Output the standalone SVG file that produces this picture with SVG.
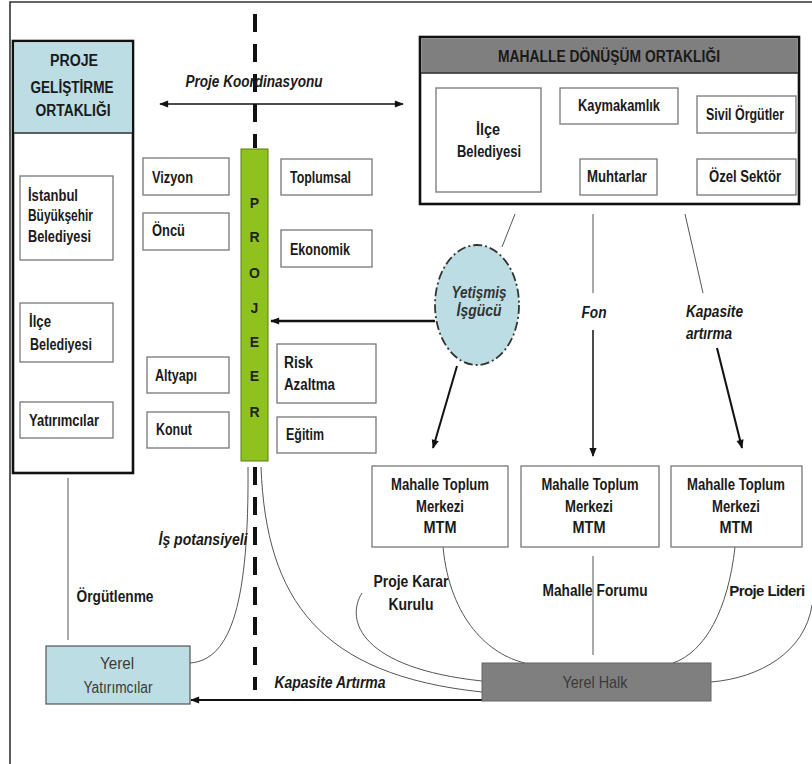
<svg xmlns="http://www.w3.org/2000/svg" width="812" height="764" viewBox="0 0 812 764">
<defs>
<marker id="ah" viewBox="0 0 10 10" refX="9" refY="5" markerWidth="10" markerHeight="9" markerUnits="userSpaceOnUse" orient="auto-start-reverse"><path d="M0,1 L10,5 L0,9 z" fill="#111"/></marker>
<style>
.t{font-family:"Liberation Sans Narrow","Liberation Sans",Arial,sans-serif;font-weight:bold;font-size:16px;fill:#1a1a1a}
.i{font-style:italic}
.r{font-weight:normal;fill:#3a3a3a}
.c{text-anchor:middle}
.big{stroke:#111;stroke-width:2.6;fill:#fff}
.box{stroke:#777;stroke-width:1.3;fill:#fff}
.thin{stroke:#555;stroke-width:1;fill:none}
.arr{stroke:#111;fill:none;marker-end:url(#ah)}
</style>
</defs>
<rect width="812" height="764" fill="#fff"/>
<g id="frame"><path d="M10,764 V2 H812" fill="none" stroke="#333" stroke-width="1.6"/></g>

<g id="connectors">
<line x1="255" y1="14" x2="255" y2="148" stroke="#111" stroke-width="4" stroke-dasharray="18 12"/>
<line x1="255" y1="467" x2="255" y2="690" stroke="#111" stroke-width="4" stroke-dasharray="18 12"/>
<line x1="160" y1="104" x2="403" y2="104" class="arr" stroke-width="1.6" marker-start="url(#ah)"/>
<line x1="435" y1="321" x2="271" y2="321" class="arr" stroke-width="2.6"/>
<line x1="457" y1="366" x2="433" y2="448" class="arr" stroke-width="2"/>
<line x1="593" y1="330" x2="593" y2="456" class="arr" stroke-width="1.5"/>
<line x1="717" y1="348" x2="742" y2="448" class="arr" stroke-width="2"/>
<line x1="482" y1="700" x2="191" y2="700" class="arr" stroke-width="2"/>
<line x1="515" y1="214" x2="502" y2="247" class="thin"/>
<line x1="593" y1="214" x2="593" y2="293" class="thin"/>
<line x1="685" y1="214" x2="703" y2="293" class="thin"/>
<line x1="68" y1="478" x2="68" y2="640" class="thin"/>
<line x1="593" y1="556" x2="593" y2="655" class="thin"/>
<path d="M443,547 C450,620 490,655 525,663" class="thin"/>
<path d="M735,547 C728,610 705,652 673,663" class="thin"/>
<path d="M711,682 C760,678 805,652 812,605" class="thin"/>
<path d="M248,467 C249,600 232,660 190,663" class="thin"/>
<path d="M261,467 C266,600 320,675 482,692" class="thin"/>
<path d="M362,593 C345,620 360,668 482,681" class="thin"/>
</g>

<g id="proje-gelistirme">
<rect x="13" y="41" width="120" height="432" class="big"/>
<rect x="14.3" y="42.3" width="117.4" height="91" fill="#bcdde3"/>
<line x1="14" y1="133" x2="132" y2="133" stroke="#333" stroke-width="1.3"/>
<text class="t c" x="74" y="66" textLength="48" lengthAdjust="spacingAndGlyphs">PROJE</text>
<text class="t c" x="72" y="93" textLength="83" lengthAdjust="spacingAndGlyphs">GELİŞTİRME</text>
<text class="t c" x="73" y="116" textLength="75" lengthAdjust="spacingAndGlyphs">ORTAKLIĞI</text>
</g>
<g id="istanbul"><rect x="20" y="176" width="93" height="84" class="box"/>
<text class="t" x="28" y="201" textLength="50" lengthAdjust="spacingAndGlyphs">İstanbul</text>
<text class="t" x="28" y="221" textLength="65" lengthAdjust="spacingAndGlyphs">Büyükşehir</text>
<text class="t" x="28" y="242" textLength="63" lengthAdjust="spacingAndGlyphs">Belediyesi</text></g>
<g id="ilce-left"><rect x="20" y="303" width="93" height="59" class="box"/>
<text class="t" x="29" y="327" textLength="22" lengthAdjust="spacingAndGlyphs">İlçe</text>
<text class="t" x="30" y="350" textLength="62" lengthAdjust="spacingAndGlyphs">Belediyesi</text></g>
<g id="yatirimcilar"><rect x="20" y="402" width="93" height="36" class="box"/>
<text class="t" x="29" y="426" textLength="70" lengthAdjust="spacingAndGlyphs">Yatırımcılar</text></g>

<g id="vizyon"><rect x="143" y="158" width="86" height="37" class="box"/><text class="t" x="152" y="183" textLength="41" lengthAdjust="spacingAndGlyphs">Vizyon</text></g>
<g id="oncu"><rect x="143" y="213" width="86" height="37" class="box"/><text class="t" x="152" y="236" textLength="33" lengthAdjust="spacingAndGlyphs">Öncü</text></g>
<g id="altyapi"><rect x="147" y="357" width="82" height="36" class="box"/><text class="t" x="155" y="381" textLength="42" lengthAdjust="spacingAndGlyphs">Altyapı</text></g>
<g id="konut"><rect x="147" y="412" width="82" height="36" class="box"/><text class="t" x="156" y="435" textLength="36" lengthAdjust="spacingAndGlyphs">Konut</text></g>
<g id="toplumsal"><rect x="281" y="159" width="91" height="36" class="box"/><text class="t" x="290" y="183" textLength="61" lengthAdjust="spacingAndGlyphs">Toplumsal</text></g>
<g id="ekonomik"><rect x="281" y="230" width="91" height="37" class="box"/><text class="t" x="290" y="255" textLength="60" lengthAdjust="spacingAndGlyphs">Ekonomik</text></g>
<g id="risk"><rect x="277" y="344" width="99" height="59" class="box"/>
<text class="t" x="284" y="368" textLength="29" lengthAdjust="spacingAndGlyphs">Risk</text>
<text class="t" x="284" y="390" textLength="51" lengthAdjust="spacingAndGlyphs">Azaltma</text></g>
<g id="egitim"><rect x="277" y="417" width="99" height="36" class="box"/><text class="t" x="286" y="440" textLength="38" lengthAdjust="spacingAndGlyphs">Eğitim</text></g>

<g id="projeer"><rect x="241" y="149" width="27" height="312" fill="#8fc21e" stroke="#5d7d10" stroke-width="1"/>
<g class="t c" style="font-size:14px;fill:#222">
<text x="254.5" y="208">P</text><text x="254.5" y="242">R</text><text x="254.5" y="278">O</text><text x="254.5" y="313">J</text><text x="254.5" y="347">E</text><text x="254.5" y="381">E</text><text x="254.5" y="417">R</text></g></g>

<g id="label-koord"><text class="t i c" x="254" y="87" textLength="137" lengthAdjust="spacingAndGlyphs">Proje Koordinasyonu</text></g>

<g id="mahalle-donusum">
<rect x="420" y="37" width="379" height="167" class="big"/>
<rect x="421.3" y="38.3" width="376.4" height="35" fill="#7f7f7f"/>
<line x1="421" y1="73" x2="798" y2="73" stroke="#333" stroke-width="1.3"/>
<text class="t c" x="609" y="62" textLength="222" lengthAdjust="spacingAndGlyphs">MAHALLE DÖNÜŞÜM ORTAKLIĞI</text></g>
<g id="ilce-mdo"><rect x="436" y="88" width="105" height="104" class="box"/>
<text class="t c" x="488" y="135" textLength="24" lengthAdjust="spacingAndGlyphs">İlçe</text>
<text class="t c" x="489" y="157" textLength="64" lengthAdjust="spacingAndGlyphs">Belediyesi</text></g>
<g id="kaymakamlik"><rect x="560" y="88" width="118" height="36" class="box"/><text class="t c" x="619" y="111" textLength="82" lengthAdjust="spacingAndGlyphs">Kaymakamlık</text></g>
<g id="sivil"><rect x="697" y="96" width="99" height="37" class="box"/><text class="t c" x="745" y="120" textLength="78" lengthAdjust="spacingAndGlyphs">Sivil Örgütler</text></g>
<g id="muhtarlar"><rect x="580" y="159" width="77" height="36" class="box"/><text class="t c" x="617" y="182" textLength="60" lengthAdjust="spacingAndGlyphs">Muhtarlar</text></g>
<g id="ozel"><rect x="697" y="159" width="99" height="36" class="box"/><text class="t c" x="745" y="182" textLength="72" lengthAdjust="spacingAndGlyphs">Özel Sektör</text></g>

<g id="yetismis"><ellipse cx="477" cy="305" rx="42" ry="60" fill="#bcdde3" stroke="#333" stroke-width="1.8" stroke-dasharray="9 3 2 3"/>
<text class="t i c" x="479" y="298" textLength="55" lengthAdjust="spacingAndGlyphs" style="fill:#333">Yetişmiş</text>
<text class="t i c" x="479" y="316" textLength="45" lengthAdjust="spacingAndGlyphs" style="fill:#333">İşgücü</text></g>

<g id="labels">
<text class="t i c" x="594" y="318" textLength="25" lengthAdjust="spacingAndGlyphs">Fon</text>
<text class="t i" x="686" y="317" textLength="57" lengthAdjust="spacingAndGlyphs">Kapasite</text>
<text class="t i" x="686" y="339" textLength="46" lengthAdjust="spacingAndGlyphs">artırma</text>
<text class="t i c" x="203" y="545" textLength="89" lengthAdjust="spacingAndGlyphs">İş potansiyeli</text>
<text class="t c" x="115" y="602" textLength="77" lengthAdjust="spacingAndGlyphs">Örgütlenme</text>
<text class="t c" x="411" y="587" textLength="75" lengthAdjust="spacingAndGlyphs">Proje Karar</text>
<text class="t c" x="411" y="610" textLength="45" lengthAdjust="spacingAndGlyphs">Kurulu</text>
<text class="t c" x="595" y="596" textLength="105" lengthAdjust="spacingAndGlyphs">Mahalle Forumu</text>
<text class="t c" x="767" y="596" style="font-size:15px;letter-spacing:-0.6px">Proje Lideri</text>
<text class="t i c" x="330" y="688" textLength="111" lengthAdjust="spacingAndGlyphs">Kapasite Artırma</text>
</g>

<g id="mtm1"><rect x="372" y="466" width="136" height="81" class="box"/>
<text class="t c" x="440" y="490" textLength="98" lengthAdjust="spacingAndGlyphs">Mahalle Toplum</text>
<text class="t c" x="440" y="512" textLength="48" lengthAdjust="spacingAndGlyphs">Merkezi</text>
<text class="t c" x="440" y="533" textLength="33" lengthAdjust="spacingAndGlyphs">MTM</text></g>
<g id="mtm2"><rect x="521" y="466" width="138" height="81" class="box"/>
<text class="t c" x="590" y="490" textLength="97" lengthAdjust="spacingAndGlyphs">Mahalle Toplum</text>
<text class="t c" x="589" y="512" textLength="48" lengthAdjust="spacingAndGlyphs">Merkezi</text>
<text class="t c" x="589" y="533" textLength="33" lengthAdjust="spacingAndGlyphs">MTM</text></g>
<g id="mtm3"><rect x="671" y="466" width="131" height="81" class="box"/>
<text class="t c" x="736" y="490" textLength="98" lengthAdjust="spacingAndGlyphs">Mahalle Toplum</text>
<text class="t c" x="736" y="512" textLength="48" lengthAdjust="spacingAndGlyphs">Merkezi</text>
<text class="t c" x="736" y="533" textLength="33" lengthAdjust="spacingAndGlyphs">MTM</text></g>

<g id="yerel-halk"><rect x="482" y="663" width="229" height="38" fill="#7f7f7f" stroke="#666" stroke-width="1"/>
<text class="t r c" x="595" y="688" textLength="65" lengthAdjust="spacingAndGlyphs">Yerel Halk</text></g>
<g id="yerel-yatirimcilar"><rect x="46" y="646" width="144" height="58" fill="#bcdde3" stroke="#555" stroke-width="1.2"/>
<text class="t r c" x="117" y="669" textLength="34" lengthAdjust="spacingAndGlyphs">Yerel</text>
<text class="t r c" x="118" y="693" textLength="69" lengthAdjust="spacingAndGlyphs">Yatırımcılar</text></g>
</svg>
